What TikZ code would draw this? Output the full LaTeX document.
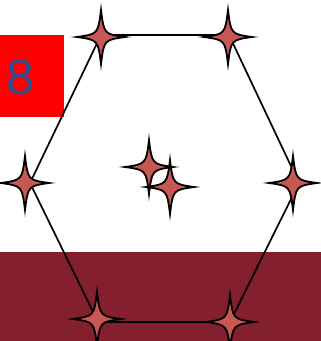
\documentclass[tikz,border=0pt]{standalone}
\usepackage{fontspec}
\setmainfont{Liberation Sans}
\definecolor{bandred}{RGB}{132,31,46}
\definecolor{starfill}{RGB}{200,88,84}
\definecolor{digitblue}{RGB}{47,79,143}
\begin{document}
\begin{tikzpicture}[x=1pt,y=-1pt,
  edge/.style={line width=1.7pt,black},
  sparkle/.pic={\draw[line width=1.8pt,fill=starfill]
    (24,0) .. controls (3,3) .. (0,27) .. controls (-3,3) .. (-24,0)
    .. controls (-3,-3) .. (0,-27) .. controls (3,-3) .. cycle;}]
\useasboundingbox (0,0) rectangle (321,341);
\fill[bandred] (0,252) rectangle (321,341);
\fill[red] (0,35) rectangle (64,117);
\node[text=digitblue,inner sep=0pt,font=\fontsize{50}{50}\selectfont] (digit8) at (20,77) {8};
\coordinate (v1) at (101,35);
\coordinate (v2) at (229,35);
\coordinate (v3) at (299,183);
\coordinate (v4) at (230,322);
\coordinate (v5) at (98,322);
\coordinate (v6) at (30,183);
\draw[edge] (v1) -- (v2) -- (v3) -- (v4) -- (v5) -- (v6) -- cycle;
\pic at (101,37) {sparkle};
\pic at (228,37) {sparkle};
\pic at (293,183) {sparkle};
\pic at (230,322) {sparkle};
\pic at (97,319) {sparkle};
\pic at (25,183) {sparkle};
\pic at (149,167) {sparkle};
\pic at (170,187) {sparkle};
\end{tikzpicture}
\end{document}
